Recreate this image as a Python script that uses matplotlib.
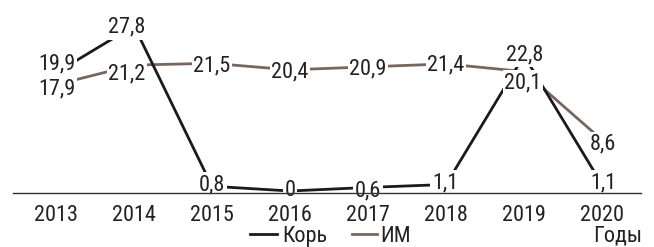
import matplotlib
matplotlib.use("Agg")
import matplotlib.pyplot as plt
from matplotlib.lines import Line2D
from matplotlib import font_manager

years = [2013, 2014, 2015, 2016, 2017, 2018, 2019, 2020]
kor = [19.9, 27.8, 0.8, 0.0, 0.6, 1.1, 22.8, 1.1]
im = [17.9, 21.2, 21.5, 20.4, 20.9, 21.4, 20.1, 8.6]
kor_labels = ["19,9", "27,8", "0,8", "0", "0,6", "1,1", "22,8", "1,1"]
im_labels = ["17,9", "21,2", "21,5", "20,4", "20,9", "21,4", "20,1", "8,6"]
series_names = ["Корь", "ИМ"]
x_title = "Годы"

# label centre offsets in pixels (dx right, dy down)
kor_off = [(1, -11), (-7, -1), (0, -4), (0, -3), (0, 0.6), (-1, -4.5), (1, -3.6), (1, -4.5)]
im_off = [(1, 1.3), (-7, 6), (0, 0), (0, 0), (0, 0), (0, -1), (-1, 8.4), (1, 2)]

avail = {f.name for f in font_manager.fontManager.ttflist}
fam = "DejaVu Sans"
for cand in ["Roboto Condensed", "Archivo Narrow", "Liberation Sans Narrow", "PT Sans Narrow",
             "Barlow Semi Condensed", "Asap Condensed"]:
    if cand in avail:
        fam = cand
        break
plt.rcParams['font.family'] = [fam, 'DejaVu Sans']

W, H = 654, 247
fig = plt.figure(figsize=(W / 100, H / 100), dpi=100)
ax = fig.add_axes([0, 0, 1, 1])
# pixel mapping: x = 56 + 78*(year-2013); y(from top) = 191 - 5.94*v
ax.set_xlim(2013 - 56 / 78, 2013 + (W - 56) / 78)
ax.set_ylim(-(H - 191) / 5.94, 191 / 5.94)
ax.axis("off")

kor_color = "#1a1a1a"
im_color = "#7a655b"
text_color = "#222222"
fs = 16
cap_half = 8  # px

ax.plot(years, im, color=im_color, lw=2.0, solid_capstyle="butt", zorder=2)
ax.plot(years, kor, color=kor_color, lw=2.0, solid_capstyle="butt", zorder=3)

def pt(p):
    return p * 72 / 100

for vals, labs, offs in [(im, im_labels, im_off), (kor, kor_labels, kor_off)]:
    for x, v, lab, (dx, dy) in zip(years, vals, labs, offs):
        ax.annotate(lab, (x, v), xytext=(pt(dx), -pt(dy + cap_half)),
                    textcoords="offset points", ha="center", va="baseline",
                    fontsize=fs, color=text_color, zorder=5,
                    bbox=dict(boxstyle="square,pad=0.08", fc="white", ec="none"))

# baseline
fig.add_artist(Line2D([13 / W, 641 / W], [1 - 193 / H, 1 - 193 / H], transform=fig.transFigure,
                      color="#333333", lw=1.0, zorder=10))

# year tick labels
for y in years:
    xf = (56 + 78 * (y - 2013)) / W
    fig.text(xf, 1 - 221 / H, str(y), ha="center", va="baseline", fontsize=fs, color=text_color)

# legend
ly = 1 - 234 / H
lb = 1 - 241.5 / H
fig.add_artist(Line2D([250 / W, 277 / W], [ly, ly], transform=fig.transFigure, color=kor_color, lw=2.0))
fig.text(282 / W, lb, series_names[0], ha="left", va="baseline", fontsize=fs, color=text_color)
fig.add_artist(Line2D([352 / W, 377 / W], [ly, ly], transform=fig.transFigure, color=im_color, lw=2.0))
fig.text(380 / W, lb, series_names[1], ha="left", va="baseline", fontsize=fs, color=text_color)
fig.text(642 / W, lb, x_title, ha="right", va="baseline", fontsize=fs, color=text_color)

fig.savefig("out.png", dpi=100)
